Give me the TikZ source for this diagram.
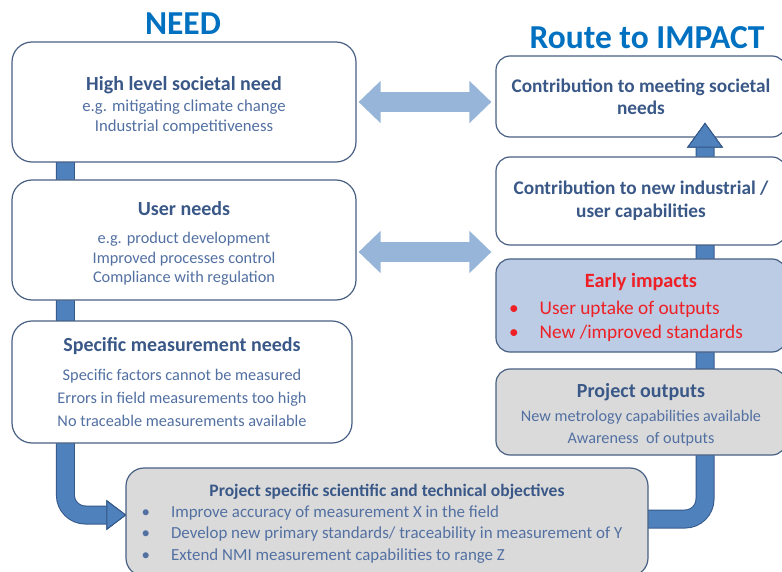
\documentclass[tikz,border=0pt]{standalone}
\usepackage{fontspec}
\setmainfont{Carlito}
\usetikzlibrary{arrows.meta,calc,backgrounds}

\definecolor{needblue}{RGB}{0,112,192}
\definecolor{headtext}{RGB}{58,88,135}
\definecolor{bodytext}{RGB}{82,112,162}
\definecolor{boxline}{RGB}{72,96,132}
\definecolor{boxgray}{RGB}{218,218,218}
\definecolor{boxblue}{RGB}{187,204,228}
\definecolor{barfill}{RGB}{79,129,189}
\definecolor{barline}{RGB}{52,88,136}
\definecolor{linkblue}{RGB}{150,181,216}
\definecolor{impactred}{RGB}{238,32,38}

% bold heading line inside a box
\newcommand\boxhead[1]{{\fontsize{20}{24}\selectfont\bfseries\color{headtext}#1}}
% taller first line, pushes the text block down a little
\newcommand\topstrut[1]{\rule{0pt}{#1}}

\begin{document}
\begin{tikzpicture}[x=1pt,y=-1pt,
    needbox/.style={draw=boxline, line width=1.2pt, rounded corners=20pt,
      fill=white, minimum width=344pt, minimum height=120pt, align=center,
      text=bodytext},
    routebox/.style={draw=boxline, line width=1.2pt, rounded corners=14pt,
      fill=white, minimum width=290pt, align=center, text=bodytext},
    header/.style={font=\fontsize{33.5}{36}\selectfont\bfseries, text=needblue},
    linkarrow/.style={draw=linkblue, line width=20pt,
      {Triangle[length=22pt,width=41pt]}-{Triangle[length=22pt,width=41pt]},
      shorten <=2pt, shorten >=4pt},
    bar/.style={draw=barfill, line width=17pt, rounded corners=20pt,
      preaction={draw=barline, line width=19pt}}]
  \useasboundingbox (0,0) rectangle (782,572);

  % top box of the impact column sits under the upward bar
  \begin{scope}[on background layer]
    \node[routebox, minimum height=81pt, text=headtext,
        font=\fontsize{19.3}{22}\selectfont\bfseries] (contrib) at (641,96.5)
      {Contribution to meeting societal\\ needs};
  \end{scope}

  \node[header] (need) at (183,24) {NEED};
  \node[header] (route) at (647,38) {Route to IMPACT};

  % need column
  \node[needbox, font=\fontsize{16.7}{20}\selectfont] (society) at (184,102)
    {\topstrut{20.5pt}\boxhead{High level societal need}\\[1pt]
     e.g. mitigating climate change\\
     Industrial competitiveness};
  \node[needbox, font=\fontsize{16.3}{19.5}\selectfont] (users) at (184,240)
    {\topstrut{20.5pt}\boxhead{User needs}\\[9pt]
     e.g. product development\\
     Improved processes control\\
     Compliance with regulation};
  \node[needbox, minimum width=340pt, minimum height=122pt,
      font=\fontsize{16.3}{23}\selectfont] (measure) at (182,382)
    {\boxhead{Specific measurement needs}\\[6pt]
     Specific factors cannot be measured\\
     Errors in field measurements too high\\
     No traceable measurements available};
  \node[needbox, fill=boxgray, rounded corners=18pt, minimum width=522pt,
      minimum height=108pt, font=\fontsize{16.9}{21.5}\selectfont] (spec) at (387,522)
    {\topstrut{19pt}{\fontsize{17.5}{21}\selectfont\bfseries\color{headtext}Project specific scientific and technical objectives}\\[2pt]
     \begin{tabular}{@{}l@{\hspace{21pt}}l@{}}
       \textbullet & Improve accuracy of measurement X in the field\\
       \textbullet & Develop new primary standards/ traceability in measurement of Y\\
       \textbullet & Extend NMI measurement capabilities to range Z
     \end{tabular}\hspace*{10pt}};

  % impact column
  \node[routebox, minimum height=88pt, text=headtext,
      font=\fontsize{19.3}{23}\selectfont\bfseries] (capab) at (641,201)
    {Contribution to new industrial /\\ user capabilities};
  \node[routebox, fill=boxblue, minimum height=93pt, text=impactred,
      font=\fontsize{19.3}{24}\selectfont] (early) at (641,305.5)
    {\topstrut{23pt}{\fontsize{20.3}{24}\selectfont\bfseries Early impacts}\\[6pt]
     \begin{tabular}{@{}l@{\hspace{21pt}}l@{}}
       \textbullet & User uptake of outputs\\
       \textbullet & New /improved standards
     \end{tabular}\hspace*{30pt}};
  \node[routebox, fill=boxgray, minimum height=86pt,
      font=\fontsize{16.2}{22}\selectfont] (outputs) at (641,412)
    {\topstrut{19pt}\boxhead{Project outputs}\\[2pt]
     New metrology capabilities available\\
     Awareness\ \ of outputs};

  % links and bars
  \draw[linkarrow] (society.east) -- (society.east -| contrib.west);
  \draw[linkarrow] ($(users.east)+(0,12)$) -- ($(users.east -| capab.west)+(0,12)$);

  \begin{scope}[on background layer]
    \draw[bar, -{Triangle[length=20pt,width=30pt,line width=1pt,color=barline,fill=barfill]}]
      ($(society.south west)+(54,-12)$) |- ($(spec.west)+(1,-7)$);
    \draw[bar, -{Triangle[length=25pt,width=36pt,line width=1pt,color=barline,fill=barfill]}]
      ($(spec.east)+(-10,-3)$) -| ($(contrib.south)+(64,-15)$);
  \end{scope}
\end{tikzpicture}
\end{document}
